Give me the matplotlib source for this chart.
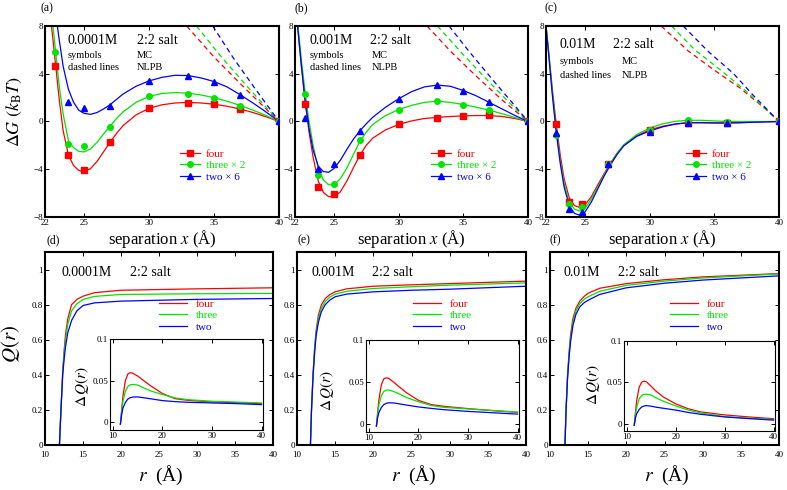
import numpy as np
import matplotlib
matplotlib.use("Agg")
import matplotlib.pyplot as plt
from matplotlib.lines import Line2D

plt.rcParams['font.family'] = ['Liberation Serif', 'DejaVu Serif']
plt.rcParams['mathtext.fontset'] = 'stix'

W, H = 787, 490

RED = '#ff0000'
GREEN = '#00e400'
BLUE = '#0000ff'

# ---------------- top row: free energy vs separation ----------------
fit_x = [22.0, 22.2, 22.5, 22.8, 23.1, 23.4, 23.8, 24.2, 24.6, 25, 25.5, 26, 26.5, 27,
         27.5, 28, 29, 30, 31, 32, 33, 34, 35, 36, 37, 38, 39, 40]

# (a) 0.0001M
mc_x_a = [22.8, 23.8, 25, 27, 30, 33, 35, 37, 40]
mc_four_a = [4.67, -2.8, -4.08, -1.7, 1.15, 1.57, 1.43, 1.06, 0]
mc_three_a = [5.79, -1.85, -2.07, -0.42, 2.13, 2.29, 1.99, 1.34, 0]
mc_two_a = [np.nan, 1.6, 1.17, 1.29, 3.41, 3.8, 3.33, 2.18, 0]
fit_four_a = [16, 12.5, 8.0, 4.9, 1.8, -0.8, -2.8, -3.7, -4.1, -4.2, -3.95, -3.35, -2.55, -1.75,
              -1.0, -0.35, 0.55, 1.1, 1.4, 1.55, 1.6, 1.55, 1.45, 1.28, 1.05, 0.75, 0.4, 0]
fit_three_a = [17, 13, 9.2, 6.0, 2.9, 0.6, -1.6, -2.2, -2.5, -2.55, -2.3, -1.75, -1.05, -0.4,
               0.25, 0.8, 1.6, 2.1, 2.35, 2.42, 2.38, 2.22, 2.0, 1.7, 1.35, 0.95, 0.5, 0]
fit_two_a = [20, 16, 12, 9.2, 6.8, 4.6, 2.7, 1.6, 0.95, 0.68, 0.6, 0.75, 1.05, 1.4,
             1.85, 2.3, 2.95, 3.4, 3.7, 3.87, 3.85, 3.65, 3.35, 2.9, 2.25, 1.55, 0.8, 0]
pb_four_xa = [32.9, 35, 37, 39, 40]
pb_four_a = [8, 5.4, 3.2, 1.05, 0]
pb_three_xa = [33.65, 35.5, 37.5, 39, 40]
pb_three_a = [8, 5.5, 3.0, 1.2, 0]
pb_two_xa = [34.9, 36.5, 38, 39, 40]
pb_two_a = [8, 5.3, 3.0, 1.5, 0]

# (b) 0.001M
mc_x_b = [22.8, 23.8, 25, 27, 30, 33, 35, 37, 40]
mc_four_b = [1.43, -5.48, -6.1, -2.83, -0.22, 0.31, 0.42, 0.53, 0]
mc_three_b = [2.29, -4.5, -5.2, -1.51, 0.98, 1.68, 1.4, 0.95, 0]
mc_two_b = [0.31, -3.94, -3.6, -0.81, 1.9, 3.05, 2.57, 1.62, 0]
fit_four_b = [10.5, 8, 4.6, 1.5, -1.0, -3.0, -5.0, -5.95, -6.3, -6.3, -5.9, -5.0, -3.9, -2.85,
              -2.0, -1.4, -0.7, -0.25, 0.05, 0.25, 0.35, 0.42, 0.47, 0.5, 0.5, 0.42, 0.25, 0]
fit_three_b = [10.8, 8.3, 5.1, 2.3, -0.1, -2.0, -3.95, -4.9, -5.3, -5.3, -4.8, -3.9, -2.8, -1.7,
               -0.9, -0.25, 0.5, 1.0, 1.35, 1.6, 1.7, 1.6, 1.42, 1.2, 0.95, 0.65, 0.33, 0]
fit_two_b = [10.5, 8, 4.6, 1.6, -0.7, -2.4, -3.75, -4.2, -4.25, -3.95, -3.25, -2.35, -1.5, -0.8,
             -0.2, 0.35, 1.2, 1.9, 2.5, 2.9, 3.05, 2.95, 2.6, 2.15, 1.6, 1.05, 0.5, 0]
pb_four_xb = [32.2, 34, 36, 38, 40]
pb_four_b = [8, 5.9, 3.8, 1.8, 0]
pb_three_xb = [33.0, 35, 37, 39, 40]
pb_three_b = [8, 5.6, 3.3, 1.1, 0]
pb_two_xb = [33.9, 35.5, 37.5, 39, 40]
pb_two_b = [8, 5.8, 3.2, 1.3, 0]

# (c) 0.01M
mc_x_c = [22.8, 23.8, 24.8, 26.8, 30, 33, 36, 40]
mc_four_c = [-0.2, -6.74, -6.88, -3.6, -0.75, -0.1, -0.1, 0]
mc_three_c = [-1.1, -6.94, -7.2, -3.6, -0.7, 0.1, -0.05, 0]
mc_two_c = [-1.0, -7.3, -7.58, -3.6, -0.9, -0.1, -0.1, 0]
fit_four_c = [8.0, 5.9, 2.6, -0.3, -2.8, -4.8, -6.4, -7.05, -7.2, -7.0, -6.3, -5.3, -4.35, -3.45,
              -2.65, -2.0, -1.2, -0.7, -0.4, -0.2, -0.1, -0.1, -0.12, -0.12, -0.1, -0.06, -0.03, 0]
fit_three_c = [8.0, 5.8, 2.3, -0.8, -3.3, -5.2, -6.75, -7.35, -7.5, -7.3, -6.5, -5.5, -4.45, -3.5,
               -2.65, -1.95, -1.1, -0.55, -0.2, 0.02, 0.1, 0.1, 0.05, 0.0, 0.0, 0.0, 0.0, 0]
fit_two_c = [8.0, 5.7, 2.1, -1.0, -3.5, -5.5, -7.05, -7.7, -7.85, -7.6, -6.75, -5.65, -4.55, -3.6,
             -2.75, -2.05, -1.25, -0.8, -0.45, -0.22, -0.1, -0.1, -0.12, -0.12, -0.1, -0.06, -0.03, 0]
pb_four_xc = [30.9, 33, 35, 37, 39, 40]
pb_four_c = [8, 5.9, 4.3, 2.8, 1.0, 0]
pb_three_xc = [31.7, 33.5, 35.5, 37.5, 39, 40]
pb_three_c = [8, 6.0, 4.3, 2.5, 1.0, 0]
pb_two_xc = [32.6, 34.5, 36.5, 38, 39, 40]
pb_two_c = [8, 5.9, 4.0, 2.2, 1.1, 0]

# ---------------- bottom row: integrated charge Q(r) ----------------
q_r_d = [11.9, 12.0, 12.1, 12.33, 12.5, 12.7, 13.0, 13.5, 14.2, 15.0, 16.5, 20, 25, 30, 40]
q_four_d = [0, 0.1, 0.2, 0.42, 0.53, 0.63, 0.72, 0.8, 0.83, 0.848, 0.868, 0.882, 0.886, 0.89, 0.896]
q_three_d = [0, 0.1, 0.2, 0.41, 0.51, 0.6, 0.69, 0.765, 0.805, 0.83, 0.847, 0.858, 0.86, 0.862, 0.864]
q_two_d = [0, 0.1, 0.2, 0.4, 0.48, 0.56, 0.64, 0.71, 0.765, 0.795, 0.81, 0.82, 0.825, 0.83, 0.835]

q_r_e = [11.76, 11.9, 12.1, 12.3, 12.5, 12.8, 13.2, 13.7, 14.3, 15, 16.5, 20, 25, 30, 40]
q_four_e = [0, 0.2, 0.4, 0.55, 0.65, 0.74, 0.8, 0.835, 0.857, 0.873, 0.89, 0.905, 0.913, 0.92, 0.934]
q_three_e = [0, 0.2, 0.4, 0.54, 0.64, 0.72, 0.78, 0.818, 0.843, 0.86, 0.876, 0.892, 0.902, 0.911, 0.924]
q_two_e = [0, 0.2, 0.39, 0.52, 0.62, 0.7, 0.76, 0.8, 0.826, 0.845, 0.86, 0.873, 0.882, 0.888, 0.905]

q_r_f = [11.96, 12.1, 12.3, 12.5, 12.7, 13.0, 13.4, 13.9, 14.5, 15, 16.5, 20, 25, 30, 40]
q_four_f = [0, 0.2, 0.4, 0.53, 0.63, 0.72, 0.78, 0.82, 0.848, 0.865, 0.893, 0.92, 0.942, 0.958, 0.977]
q_three_f = [0, 0.2, 0.39, 0.52, 0.61, 0.7, 0.765, 0.805, 0.832, 0.845, 0.876, 0.91, 0.934, 0.952, 0.975]
q_two_f = [0, 0.19, 0.38, 0.5, 0.59, 0.68, 0.745, 0.787, 0.812, 0.825, 0.858, 0.896, 0.922, 0.94, 0.964]

# insets: Delta Q(r)
dq_r = [11.5, 11.75, 12, 12.5, 13, 13.5, 14, 15, 16, 17.5, 20, 22.5, 25, 30, 35, 40]
dq_four_d = [-0.002, 0.015, 0.031, 0.05, 0.058, 0.0597, 0.059, 0.0556, 0.051, 0.0444, 0.0347, 0.0286, 0.0266, 0.0246, 0.0238, 0.0226]
dq_three_d = [-0.002, 0.013, 0.025, 0.0375, 0.043, 0.0452, 0.0456, 0.0448, 0.042, 0.038, 0.0335, 0.0295, 0.0274, 0.0254, 0.0244, 0.0234]
dq_two_d = [-0.002, 0.009, 0.017, 0.024, 0.028, 0.0298, 0.0305, 0.0306, 0.0298, 0.0285, 0.0262, 0.025, 0.0242, 0.0234, 0.0226, 0.0214]
dq_four_e = [-0.002, 0.014, 0.029, 0.047, 0.054, 0.0553, 0.0545, 0.050, 0.045, 0.0378, 0.0285, 0.0236, 0.0215, 0.0187, 0.0163, 0.0142]
dq_three_e = [-0.002, 0.012, 0.023, 0.034, 0.039, 0.0405, 0.0407, 0.039, 0.0365, 0.032, 0.0268, 0.0225, 0.0203, 0.0183, 0.0165, 0.0146]
dq_two_e = [-0.002, 0.008, 0.014, 0.020, 0.0235, 0.025, 0.0256, 0.0254, 0.0245, 0.023, 0.0207, 0.019, 0.0175, 0.0154, 0.0138, 0.0122]
dq_four_f = [-0.002, 0.014, 0.028, 0.044, 0.050, 0.0515, 0.0505, 0.0448, 0.039, 0.032, 0.0238, 0.018, 0.0142, 0.0105, 0.008, 0.0059]
dq_three_f = [-0.002, 0.011, 0.02, 0.03, 0.034, 0.0355, 0.0356, 0.0343, 0.031, 0.027, 0.0213, 0.0165, 0.013, 0.0084, 0.0065, 0.005]
dq_two_f = [-0.002, 0.007, 0.012, 0.017, 0.02, 0.0213, 0.0218, 0.021, 0.0198, 0.0185, 0.0163, 0.0135, 0.0113, 0.008, 0.006, 0.0042]

salts = ['0.0001M', '0.001M', '0.01M']
top_labels = ['four', 'three \u00d7 2', 'two \u00d7 6']
bottom_labels = ['four', 'three', 'two']


def rect(left, top, right, bottom):
    # pixel box -> figure fraction
    return [left / W, 1 - bottom / H, (right - left) / W, (bottom - top) / H]


def fxy(x, y):
    return x / W, 1 - y / H


def style_axes(ax, lw=1.5, size=6.5, xpad=1.5):
    for s in ax.spines.values():
        s.set_linewidth(lw)
    ax.tick_params(direction='in', top=True, right=True, length=3, width=0.7,
                   labelsize=size, pad=1.5)
    ax.tick_params(axis='x', pad=xpad)


fig = plt.figure(figsize=(W / 100, H / 100), dpi=100)

# ---- top row ----
top_boxes = [(45, 26, 279, 217), (295, 26, 528, 217), (546, 26, 779, 217)]
top_mc = [(mc_x_a, mc_four_a, mc_three_a, mc_two_a),
          (mc_x_b, mc_four_b, mc_three_b, mc_two_b),
          (mc_x_c, mc_four_c, mc_three_c, mc_two_c)]
top_fit = [(fit_four_a, fit_three_a, fit_two_a),
           (fit_four_b, fit_three_b, fit_two_b),
           (fit_four_c, fit_three_c, fit_two_c)]
top_pb = [((pb_four_xa, pb_four_a), (pb_three_xa, pb_three_a), (pb_two_xa, pb_two_a)),
          ((pb_four_xb, pb_four_b), (pb_three_xb, pb_three_b), (pb_two_xb, pb_two_b)),
          ((pb_four_xc, pb_four_c), (pb_three_xc, pb_three_c), (pb_two_xc, pb_two_c))]
colors = [RED, GREEN, BLUE]
markers = ['s', 'o', '^']
legend_x_top = [180, 431, 686]
salt_x_top = [(68, 137), (310, 370), (560, 613)]
mcnl_x = [137, 372, 622]
info_y = [(40, 55, 67), (40, 55, 67), (44, 62, 76)]
panel_top = ['(a)', '(b)', '(c)']
panel_top_x = [47, 301, 551]
panel_bot = ['(d)', '(e)', '(f)']
panel_bot_x = [53, 304, 555]

for i, box in enumerate(top_boxes):
    ax = fig.add_axes(rect(*box))
    mx, m4, m3, m2 = top_mc[i]
    for k, yfit in enumerate(top_fit[i]):
        ax.plot(fit_x, yfit, color=colors[k], lw=0.9, zorder=2)
    for k, (px, py) in enumerate(top_pb[i]):
        ax.plot(px, py, color=colors[k], lw=0.9, ls=(0, (4, 3)), zorder=2)
    for k, my in enumerate((m4, m3, m2)):
        ax.plot(mx, my, ls='none', marker=markers[k], color=colors[k], ms=4, zorder=3)
    ax.set_xlim(22, 40)
    ax.set_ylim(-8, 8)
    ax.set_xticks([22, 25, 30, 35, 40])
    ax.set_yticks([-8, -4, 0, 4, 8])
    style_axes(ax)

    handles = [Line2D([], [], color=colors[k], marker=markers[k], ms=4, lw=0.9) for k in range(3)]
    ax.legend(handles, top_labels, loc='upper left', frameon=False, fontsize=8,
              bbox_to_anchor=fxy(legend_x_top[i], 149), bbox_transform=fig.transFigure,
              borderpad=0, borderaxespad=0, handlelength=1.8, handletextpad=0.5,
              labelspacing=0.15, labelcolor='linecolor')

    y0, y1, y2 = info_y[i]
    fig.text(*fxy(salt_x_top[i][0], y0), salts[i], fontsize=10, va='center')
    fig.text(*fxy(salt_x_top[i][1], y0), '2:2 salt', fontsize=10, va='center')
    fig.text(*fxy(salt_x_top[i][0], y1), 'symbols', fontsize=7.5, va='center')
    fig.text(*fxy(mcnl_x[i], y1), 'MC', fontsize=7.5, va='center')
    fig.text(*fxy(salt_x_top[i][0], y2), 'dashed lines', fontsize=7.5, va='center')
    fig.text(*fxy(mcnl_x[i], y2), 'NLPB', fontsize=7.5, va='center')

    cx = (box[0] + box[2]) / 2
    fig.text(*fxy(cx, 243.5), 'separation $x$ (\u00c5)', fontsize=12, ha='center', va='baseline')
    fig.text(*fxy(panel_top_x[i], 8), panel_top[i], fontsize=8.5, ha='center', va='center')
    fig.text(*fxy(panel_bot_x[i], 240), panel_bot[i], fontsize=8.5, ha='center', va='center')

fig.text(*fxy(14, 112), r'$\Delta G\ (k_{\rm B}T)$', fontsize=13, rotation=90,
         ha='center', va='center')

# ---- bottom row ----
bot_boxes = [(45, 252, 273, 445), (297, 252, 526, 445), (550, 252, 779, 445)]
inset_boxes = [(110, 339, 263, 430), (366, 340, 519, 432), (624, 341, 775, 431)]
bot_q = [(q_r_d, q_four_d, q_three_d, q_two_d),
         (q_r_e, q_four_e, q_three_e, q_two_e),
         (q_r_f, q_four_f, q_three_f, q_two_f)]
bot_dq = [(dq_four_d, dq_three_d, dq_two_d),
          (dq_four_e, dq_three_e, dq_two_e),
          (dq_four_f, dq_three_f, dq_two_f)]
legend_x_bot = [159, 413, 670]
salt_x_bot = [(61, 130), (312, 372), (564, 618)]
dq_label_xy = [(82, 386), (327, 390), (593, 384)]

for i, box in enumerate(bot_boxes):
    ax = fig.add_axes(rect(*box))
    r, q4, q3, q2 = bot_q[i]
    for k, q in enumerate((q4, q3, q2)):
        ax.plot(r, q, color=colors[k], lw=0.9, label=bottom_labels[k])
    ax.set_xlim(10, 40)
    ax.set_ylim(0, 1.1)
    ax.set_xticks([10, 15, 20, 25, 30, 35, 40])
    ax.set_yticks([0, 0.2, 0.4, 0.6, 0.8, 1])
    ax.set_yticklabels(['0', '0.2', '0.4', '0.6', '0.8', '1'])
    style_axes(ax, xpad=4)
    ax.legend(loc='upper left', frameon=False, fontsize=8,
              bbox_to_anchor=fxy(legend_x_bot[i], 299), bbox_transform=fig.transFigure,
              borderpad=0, borderaxespad=0, handlelength=2.5, handletextpad=0.8,
              labelspacing=0.15, labelcolor='linecolor')
    fig.text(*fxy(salt_x_bot[i][0], 272), salts[i], fontsize=10, va='center')
    fig.text(*fxy(salt_x_bot[i][1], 272), '2:2 salt', fontsize=10, va='center')
    cx = (box[0] + box[2]) / 2
    fig.text(*fxy(cx + 2, 481), '$r$  (\u00c5)', fontsize=14, ha='center', va='baseline')

    ins = fig.add_axes(rect(*inset_boxes[i]))
    for k, dq in enumerate(bot_dq[i]):
        ins.plot(dq_r, dq, color=colors[k], lw=0.9)
    ins.set_xlim(9.4, 40.3)
    ins.set_ylim(-0.009, 0.1)
    ins.set_xticks([10, 20, 30, 40])
    ins.set_yticks([0, 0.05, 0.1])
    ins.set_yticklabels(['0', '0.05', '0.1'])
    style_axes(ins, lw=0.8, size=6.5)
    fig.text(*fxy(*dq_label_xy[i]), r'$\Delta\,Q(r)$', fontsize=11, rotation=90,
             ha='center', va='center')

fig.text(*fxy(10, 344), '$Q(r)$', fontsize=15, rotation=90, ha='center', va='center')

fig.savefig('out.png', dpi=100)
